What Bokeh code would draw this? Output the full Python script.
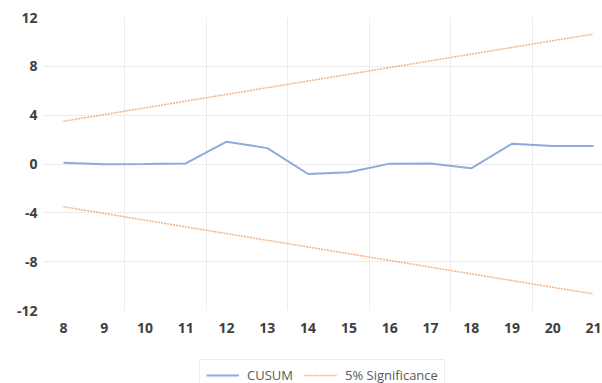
from bokeh.plotting import figure
from bokeh.models import Range1d, FixedTicker, Legend, LegendItem
from bokeh.layouts import column
from bokeh.embed import file_html
from bokeh.resources import INLINE

periods = [8, 9, 10, 11, 12, 13, 14, 15, 16, 17, 18, 19, 20, 21]
cusum = [0.1, -0.03, 0.0, 0.05, 1.83, 1.3, -0.82, -0.68, 0.03, 0.05, -0.35, 1.66, 1.48, 1.48]
upper = [3.5, 4.05, 4.6, 5.15, 5.7, 6.25, 6.8, 7.35, 7.9, 8.45, 9.0, 9.55, 10.1, 10.65]
lower = [-v for v in upper]
y_ticks = [-12, -8, -4, 0, 4, 8, 12]
y_labels = {t: str(t) for t in y_ticks}
y_grid = [-8, -4, 0, 4, 8]
x_grid = [9.5, 11.5, 13.5, 15.5, 17.5, 19.5]

CUSUM_COLOR = "#8faadc"
SIG_COLOR = "#f4b183"

p = figure(width=602, height=340, output_backend="svg", toolbar_location=None,
           x_range=Range1d(7.51, 21.22), y_range=Range1d(-12, 12),
           min_border_left=43, min_border_right=0, min_border_top=17, min_border_bottom=30)
p.outline_line_color = None
p.background_fill_color = "white"

for ax in (p.xaxis[0], p.yaxis[0]):
    ax.axis_line_color = None
    ax.major_tick_line_color = None
    ax.minor_tick_line_color = None
    ax.major_tick_out = 0
    ax.major_tick_in = 0
    ax.minor_tick_out = 0
    ax.minor_tick_in = 0
    ax.major_label_text_font = "Open Sans"
    ax.major_label_text_font_style = "bold"
    ax.major_label_text_font_size = "14px"
    ax.major_label_text_color = "#404040"

p.xaxis.ticker = FixedTicker(ticks=periods)
p.yaxis.ticker = FixedTicker(ticks=y_ticks)
p.yaxis.major_label_overrides = y_labels
p.xaxis.major_label_standoff = 12
p.yaxis.major_label_standoff = 6

p.xgrid.ticker = FixedTicker(ticks=x_grid)
p.ygrid.ticker = FixedTicker(ticks=y_grid)
p.xgrid.grid_line_color = "#ececec"
p.ygrid.grid_line_color = "#ececec"

p.line(periods, cusum, line_color=CUSUM_COLOR, line_width=2)
p.line(periods, upper, line_color=SIG_COLOR, line_width=1.5, line_dash="2 1")
p.line(periods, lower, line_color=SIG_COLOR, line_width=1.5, line_dash="2 1")

# legend strip below the chart (its lines lie outside its ranges, only the legend shows)
q = figure(width=602, height=43, output_backend="svg", toolbar_location=None,
           x_range=Range1d(0, 1), y_range=Range1d(0, 1),
           x_axis_type=None, y_axis_type=None,
           min_border_left=0, min_border_right=0, min_border_top=0, min_border_bottom=0)
q.outline_line_color = None
q.grid.visible = False
d1 = q.line(periods, cusum, line_color=CUSUM_COLOR, line_width=2)
d2 = q.line(periods, upper, line_color=SIG_COLOR, line_width=1.5, line_dash="2 1")

legend = Legend(items=[LegendItem(label="CUSUM", renderers=[d1]),
                       LegendItem(label="5% Significance", renderers=[d2])],
                location=(156, -8), orientation="horizontal",
                glyph_width=33, glyph_height=16, label_height=16,
                label_standoff=8, spacing=11, padding=6, margin=0,
                label_text_font="Open Sans", label_text_font_size="13px",
                label_text_color="#595959",
                border_line_color="#d9d9d9", background_fill_color="white")
q.add_layout(legend, "center")

layout = column(p, q, spacing=0)
open("out.html", "w").write(file_html(layout, INLINE))
